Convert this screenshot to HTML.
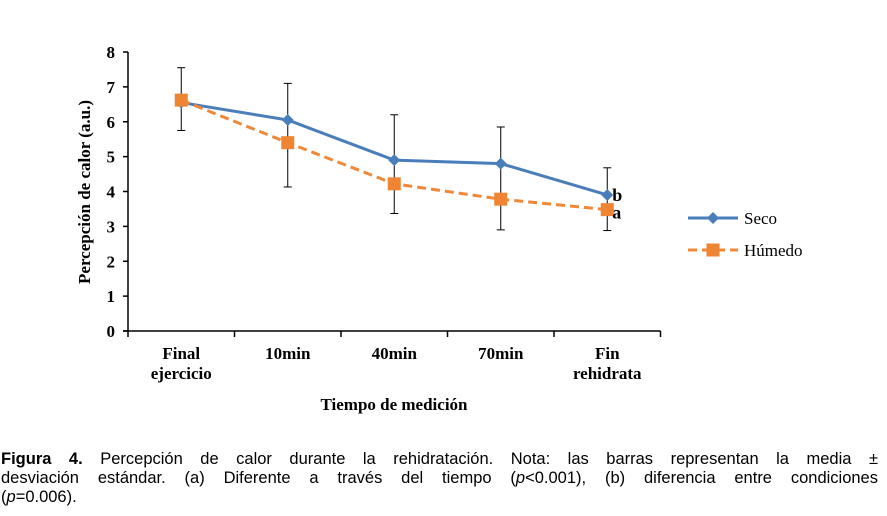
<!DOCTYPE html>
<html><head><meta charset="utf-8"><style>
body{margin:0;background:#fff;width:887px;height:516px;overflow:hidden;position:relative}
svg{position:absolute;left:0;top:0}
.cap{position:absolute;left:1px;top:450px;width:877px;font-family:"Liberation Sans",sans-serif;font-size:16.5px;line-height:19px;color:#000}
.cap .j{text-align:justify;text-align-last:justify;white-space:nowrap}
</style></head><body>
<svg width="887" height="440" font-family="Liberation Serif, serif" font-weight="bold" id="c"></svg>
<div class="cap"><div class="j"><b>Figura 4.</b> Percepción de calor durante la rehidratación. Nota: las barras representan la media ±</div><div class="j">desviación estándar. (a) Diferente a través del tiempo (<i>p</i>&lt;0.001), (b) diferencia entre condiciones</div><div>(<i>p</i>=0.006).</div></div>
<script>
const categories=[["Final","ejercicio"],["10min"],["40min"],["70min"],["Fin","rehidrata"]];
const seco=[6.55,6.05,4.9,4.8,3.9];
const humedo=[6.62,5.4,4.22,3.78,3.48];
const errTop=[7.55,7.1,6.2,5.85,4.68];
const errBot=[5.75,4.13,3.37,2.9,2.88];
const yTicks=[0,1,2,3,4,5,6,7,8];
const NS="http://www.w3.org/2000/svg",s=document.getElementById('c');
const x0=128,step=106.5,yb=331,yt=52;
const X=i=>x0+step*(i+0.5), Y=v=>yb-(yb-yt)*v/8;
function el(t,a,p){const e=document.createElementNS(NS,t);for(const k in a)e.setAttribute(k,a[k]);(p||s).appendChild(e);return e;}
let e;
e=el('line',{x1:x0,y1:yt,x2:x0,y2:yb,stroke:'#000','stroke-width':1.5});

e=el('line',{x1:x0-5,y1:yb,x2:x0+step*5,y2:yb,stroke:'#000','stroke-width':1.5});

yTicks.forEach(v=>{el('line',{x1:x0-5,y1:Y(v),x2:x0,y2:Y(v),stroke:'#000','stroke-width':1.5});
 e=el('text',{x:x0-13,y:Y(v)+6,'text-anchor':'end','font-size':17});e.textContent=v;
 });
for(let i=0;i<=5;i++)el('line',{x1:x0+step*i,y1:yb,x2:x0+step*i,y2:yb+6,stroke:'#000','stroke-width':1.5});
categories.forEach((c,i)=>c.forEach((t,j)=>{e=el('text',{x:X(i),y:359+j*20,'text-anchor':'middle','font-size':17});e.textContent=t;
 }));
e=el('text',{x:394,y:410,'text-anchor':'middle','font-size':17});e.textContent='Tiempo de medición';

e=el('text',{x:0,y:0,'text-anchor':'middle','font-size':17,transform:'translate(90,192) rotate(-90)'});e.textContent='Percepción de calor (a.u.)';

errTop.forEach((v,i)=>{const x=X(i);
 el('line',{x1:x,y1:Y(v),x2:x,y2:Y(errBot[i]),stroke:'#000','stroke-width':1});
 el('line',{x1:x-4,y1:Y(v),x2:x+4,y2:Y(v),stroke:'#000','stroke-width':1});
 el('line',{x1:x-4,y1:Y(errBot[i]),x2:x+4,y2:Y(errBot[i]),stroke:'#000','stroke-width':1});});
e=el('polyline',{points:seco.map((v,i)=>X(i)+','+Y(v)).join(' '),fill:'none',stroke:'#4a7ebb','stroke-width':3});

e=el('polyline',{points:humedo.map((v,i)=>X(i)+','+Y(v)).join(' '),fill:'none',stroke:'#f0883a','stroke-width':3,'stroke-dasharray':'9,5'});

function dia(x,y){return el('polygon',{points:`${x},${y-6} ${x+6},${y} ${x},${y+6} ${x-6},${y}`,fill:'#4a7ebb'});}
function sq(x,y){return el('rect',{x:x-6.5,y:y-6.5,width:13,height:13,fill:'#ef8433'});}
seco.forEach((v,i)=>{e=dia(X(i),Y(v));});
humedo.forEach((v,i)=>{e=sq(X(i),Y(v));});
e=el('text',{x:X(4)+5,y:Y(seco[4])+6,'font-size':18});e.textContent='b';

e=el('text',{x:X(4)+5,y:Y(humedo[4])+9,'font-size':18});e.textContent='a';

el('line',{x1:688,y1:218,x2:738,y2:218,stroke:'#4a7ebb','stroke-width':3});dia(713,218);
e=el('text',{x:744,y:224,'font-size':17,'font-weight':'normal'});e.textContent='Seco';

el('line',{x1:688,y1:250,x2:738,y2:250,stroke:'#f0883a','stroke-width':3,'stroke-dasharray':'9,5'});sq(713,250);
e=el('text',{x:744,y:256,'font-size':17,'font-weight':'normal'});e.textContent='Húmedo';

</script>
</body></html>
